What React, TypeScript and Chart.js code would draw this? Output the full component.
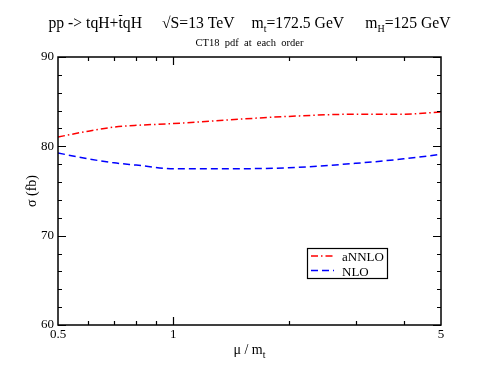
import React, { useEffect, useRef } from "react";
import { Chart, registerables } from "chart.js";

Chart.register(...registerables);

const muValues = [0.5, 0.6, 0.7, 0.8, 1, 1.5, 2, 3, 4, 5];
const annloValues = [81.05, 81.7, 82.15, 82.35, 82.55, 83.05, 83.35, 83.6, 83.6, 83.85];
const nloValues = [79.25, 78.6, 78.15, 77.9, 77.5, 77.5, 77.6, 78.1, 78.6, 79.1];

const seriesNames = ["aNNLO", "NLO"];
const xLabelTicks = [0.5, 1, 5];
const xMajorTicks = [1];
const xMinorTicks = [0.6, 0.7, 0.8, 0.9, 2, 3, 4];
const yMajorTicks = [60, 70, 80, 90];
const yMinorTicks = [62, 64, 66, 68, 72, 74, 76, 78, 82, 84, 86, 88];

const SERIF = "'Liberation Serif', 'Times New Roman', serif";

const decorPlugin = {
  id: "decor",
  afterDraw(chart: any) {
    const ctx = chart.ctx as CanvasRenderingContext2D;
    const area = chart.chartArea;
    const xs = chart.scales.x;
    const ys = chart.scales.y;
    ctx.save();

    // frame
    ctx.strokeStyle = "#000";
    ctx.lineWidth = 1.5;
    ctx.strokeRect(area.left, area.top, area.right - area.left, area.bottom - area.top);

    // ticks (inside, mirrored)
    ctx.lineWidth = 1.2;
    const major = 8;
    const minor = 4;
    const drawX = (v: number, len: number) => {
      const px = Math.round(xs.getPixelForValue(v)) + 0.5;
      ctx.beginPath();
      ctx.moveTo(px, area.bottom);
      ctx.lineTo(px, area.bottom - len);
      ctx.moveTo(px, area.top);
      ctx.lineTo(px, area.top + len);
      ctx.stroke();
    };
    const drawY = (v: number, len: number) => {
      const py = Math.round(ys.getPixelForValue(v)) + 0.5;
      ctx.beginPath();
      ctx.moveTo(area.left, py);
      ctx.lineTo(area.left + len, py);
      ctx.moveTo(area.right, py);
      ctx.lineTo(area.right - len, py);
      ctx.stroke();
    };
    xMajorTicks.forEach((v) => drawX(v, major));
    xMinorTicks.forEach((v) => drawX(v, minor));
    yMajorTicks.forEach((v) => drawY(v, major));
    yMinorTicks.forEach((v) => drawY(v, minor));

    const cx = (area.left + area.right) / 2;
    ctx.fillStyle = "#000";
    ctx.textBaseline = "alphabetic";

    // main title with sub/overline segments
    const mainFont = `15.7px ${SERIF}`;
    const subFont = `10px ${SERIF}`;
    type Seg = { t: string; sub?: boolean; bar?: boolean; gap?: number };
    const segs: Seg[] = [
      { t: "pp -> tqH+" },
      { t: "t", bar: true },
      { t: "qH" },
      { t: "", gap: 20 },
      { t: "\u221AS=13 TeV" },
      { t: "", gap: 17 },
      { t: "m" },
      { t: "t", sub: true },
      { t: "=172.5 GeV" },
      { t: "", gap: 21 },
      { t: "m" },
      { t: "H", sub: true },
      { t: "=125 GeV" },
    ];
    const widthOf = (s: Seg) => {
      if (s.gap) return s.gap;
      ctx.font = s.sub ? subFont : mainFont;
      return ctx.measureText(s.t).width;
    };
    const total = segs.reduce((a, s) => a + widthOf(s), 0);
    let x = cx - total / 2;
    const titleY = 28;
    for (const s of segs) {
      const w = widthOf(s);
      if (s.t) {
        ctx.font = s.sub ? subFont : mainFont;
        ctx.textAlign = "left";
        ctx.fillText(s.t, x, s.sub ? titleY + 4 : titleY);
        if (s.bar) {
          ctx.lineWidth = 1;
          ctx.beginPath();
          ctx.moveTo(x + 0.5, titleY - 12.5);
          ctx.lineTo(x + w - 0.5, titleY - 12.5);
          ctx.stroke();
        }
      }
      x += w;
    }

    // subtitle
    ctx.font = `10.5px ${SERIF}`;
    ctx.textAlign = "center";
    ctx.fillText("CT18  pdf  at  each  order", cx, 46);

    // x axis title: mu / m_t
    const xtFont = `14px ${SERIF}`;
    ctx.font = xtFont;
    const part1 = "\u03BC / m";
    const w1 = ctx.measureText(part1).width;
    ctx.font = subFont;
    const w2 = ctx.measureText("t").width;
    const xx = cx - (w1 + w2) / 2;
    const xtY = area.bottom + 29;
    ctx.font = xtFont;
    ctx.textAlign = "left";
    ctx.fillText(part1, xx, xtY);
    ctx.font = subFont;
    ctx.fillText("t", xx + w1, xtY + 4);

    // y axis title
    ctx.save();
    ctx.translate(area.left - 22, (area.top + area.bottom) / 2);
    ctx.rotate(-Math.PI / 2);
    ctx.font = `14px ${SERIF}`;
    ctx.textAlign = "center";
    ctx.fillText("\u03C3 (fb)", 0, 0);
    ctx.restore();

    // legend box
    const boxR = area.right - 54;
    const boxB = area.bottom - 47;
    const boxW = 80;
    const boxH = 30;
    const boxL = boxR - boxW;
    const boxT = boxB - boxH;
    ctx.fillStyle = "#fff";
    ctx.fillRect(boxL, boxT, boxW, boxH);
    ctx.strokeStyle = "#000";
    ctx.lineWidth = 1.2;
    ctx.strokeRect(boxL + 0.5, boxT + 0.5, boxW, boxH);
    chart.data.datasets.forEach((ds: any, i: number) => {
      const ly = boxT + 8 + i * 14.5;
      ctx.save();
      ctx.strokeStyle = ds.borderColor;
      ctx.lineWidth = ds.borderWidth;
      ctx.setLineDash(ds.borderDash || []);
      ctx.beginPath();
      ctx.moveTo(boxL + 4, ly);
      ctx.lineTo(boxL + 27, ly);
      ctx.stroke();
      ctx.restore();
      ctx.fillStyle = "#000";
      ctx.font = `13px ${SERIF}`;
      ctx.textAlign = "left";
      ctx.fillText(ds.label, boxL + 35, ly + 5);
    });

    ctx.restore();
  },
};

export default function App() {
  const ref = useRef<HTMLCanvasElement | null>(null);
  useEffect(() => {
    if (!ref.current) return;
    const chart = new Chart(ref.current, {
      type: "line",
      data: {
        datasets: [
          {
            label: seriesNames[0],
            data: muValues.map((m, i) => ({ x: m, y: annloValues[i] })),
            borderColor: "#ff0000",
            borderWidth: 1.5,
            borderDash: [7, 3, 1.5, 3],
            pointRadius: 0,
            cubicInterpolationMode: "monotone",
            fill: false,
          },
          {
            label: seriesNames[1],
            data: muValues.map((m, i) => ({ x: m, y: nloValues[i] })),
            borderColor: "#0000ff",
            borderWidth: 1.5,
            borderDash: [7, 4],
            pointRadius: 0,
            cubicInterpolationMode: "monotone",
            fill: false,
          },
        ],
      },
      options: {
        responsive: false,
        animation: false,
        devicePixelRatio: 1,
        layout: { padding: { left: 0, top: 57, right: 55, bottom: 0 } },
        plugins: {
          legend: { display: false },
          title: { display: false },
          tooltip: { enabled: false },
        },
        scales: {
          x: {
            type: "logarithmic",
            min: 0.5,
            max: 5,
            grid: { display: false, drawTicks: false },
            border: { display: false },
            afterBuildTicks: (scale: any) => {
              scale.ticks = xLabelTicks.map((v) => ({ value: v }));
            },
            afterFit: (scale: any) => {
              scale.height = 58;
            },
            ticks: {
              autoSkip: false,
              maxRotation: 0,
              padding: 2,
              color: "#000",
              font: { family: SERIF, size: 13 },
              callback: (v: any) => String(v),
            },
          },
          y: {
            type: "linear",
            min: 60,
            max: 90,
            grid: { display: false, drawTicks: false },
            border: { display: false },
            afterFit: (scale: any) => {
              scale.width = 58;
            },
            afterBuildTicks: (scale: any) => {
              scale.ticks = yMajorTicks.map((v) => ({ value: v }));
            },
            ticks: {
              padding: 4,
              color: "#000",
              font: { family: SERIF, size: 13 },
            },
          },
        },
      },
      plugins: [decorPlugin],
    } as any);
    return () => chart.destroy();
  }, []);
  return (
    <div style={{ position: "fixed", left: 0, top: 0, width: 496, height: 383, background: "#fff" }}>
      <canvas ref={ref} width={496} height={383} style={{ display: "block", width: 496, height: 383 }} />
    </div>
  );
}
